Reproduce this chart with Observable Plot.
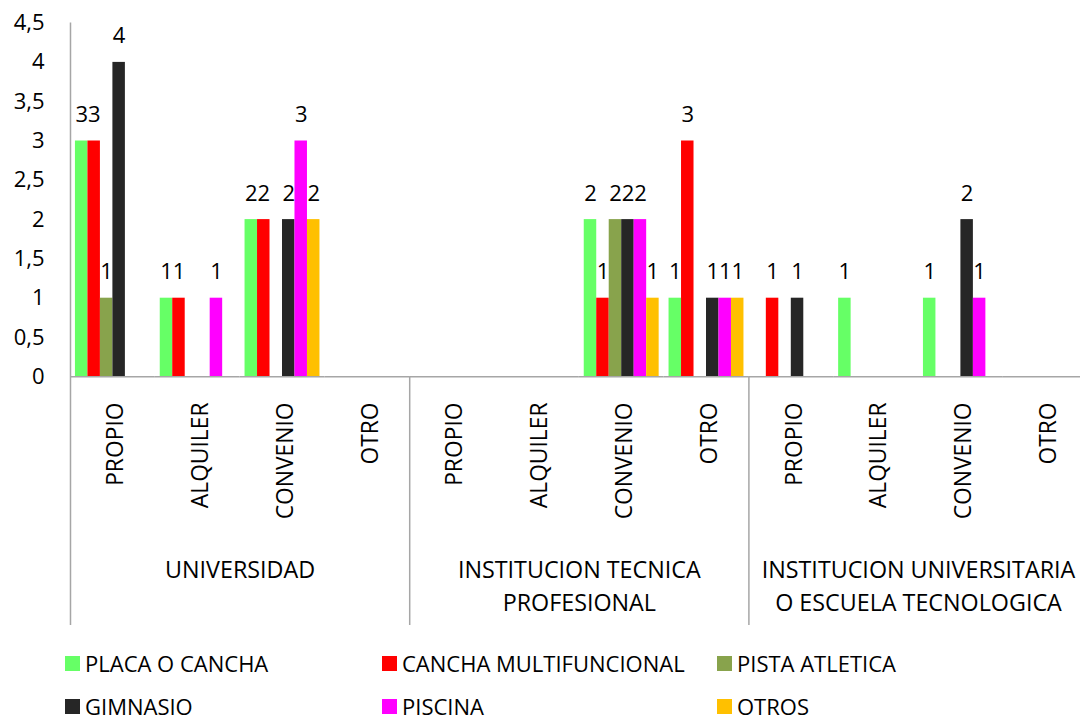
<!DOCTYPE html>
<html>
<head>
<meta charset="utf-8">
<script src="https://cdn.jsdelivr.net/npm/d3@7"></script>
<script src="https://cdn.jsdelivr.net/npm/@observablehq/plot@0.6"></script>
<style>
  html, body { margin: 0; padding: 0; background: #fff; overflow: hidden; }
  #wrap { position: relative; width: 1080px; height: 721px; font-family: "Open Sans", sans-serif; }
  #chart svg { display: block; }
  .item { position: absolute; display: flex; align-items: center; height: 30px; font-size: 22px; line-height: 30px; color: #000; white-space: nowrap; }
  .sw { width: 15px; height: 15px; margin-right: 5px; flex: none; }
</style>
</head>
<body>
<div id="wrap">
  <div id="chart"></div>
  <div id="legend"></div>
</div>
<script>
// ---- data ----
const GROUPS = ["UNIVERSIDAD", "INSTITUCION TECNICA\nPROFESIONAL", "INSTITUCION UNIVERSITARIA\nO ESCUELA TECNOLOGICA"];
const SUBCATS = ["PROPIO", "ALQUILER", "CONVENIO", "OTRO"];
const SERIES = ["PLACA O CANCHA", "CANCHA MULTIFUNCIONAL", "PISTA ATLETICA", "GIMNASIO", "PISCINA", "OTROS"];
const COLORS = ["#66FF66", "#FF0000", "#88A34C", "#262626", "#FF00FF", "#FFC000"];
const Y_TICKS = [0, 0.5, 1, 1.5, 2, 2.5, 3, 3.5, 4, 4.5];
// values for the 12 categories (3 groups x 4 subcategories), null = blank
const PLACA_O_CANCHA        = [3, 1, 2, null,   null, null, 2, 1,      null, 1, 1, null];
const CANCHA_MULTIFUNCIONAL = [3, 1, 2, null,   null, null, 1, 3,      1, null, null, null];
const PISTA_ATLETICA        = [1, null, null, null, null, null, 2, null, null, null, null, null];
const GIMNASIO              = [4, null, 2, null, null, null, 2, 1,     1, null, 2, null];
const PISCINA               = [null, 1, 3, null, null, null, 2, 1,     null, null, 1, null];
const OTROS                 = [null, null, 2, null, null, null, 1, 1,  null, null, null, null];
const VALUES = [PLACA_O_CANCHA, CANCHA_MULTIFUNCIONAL, PISTA_ATLETICA, GIMNASIO, PISCINA, OTROS];

// ---- build tables ----
const cats = [];
GROUPS.forEach((g, gi) => SUBCATS.forEach((s, si) => cats.push({key: gi + "|" + s, group: gi, sub: s})));
const CAT_KEYS = cats.map(c => c.key);
const rows = [];
cats.forEach((c, ci) => SERIES.forEach((s, sj) => {
  const v = VALUES[sj][ci];
  if (v != null) rows.push({cat: c.key, series: s, value: v});
}));
const groupRows = GROUPS.map((g, gi) => ({label: g, first: gi + "|" + SUBCATS[0], mid: gi + "|" + SUBCATS[1], gi}));

const AXIS = "#A6A6A6";
const FONT = 22;
const fmt = d => String(d).replace(".", ",");

const chart = Plot.plot({
  width: 1080,
  height: 645,
  marginLeft: 70,
  marginRight: 0,
  marginTop: 22.6,
  marginBottom: 268.7,
  style: {fontFamily: "'Open Sans', sans-serif", fontSize: FONT + "px", color: "#000", background: "#fff", overflow: "hidden"},
  fx: {domain: CAT_KEYS, range: [70, 1087.6], padding: 0, round: false, axis: null, label: null},
  x: {domain: SERIES, paddingInner: 0, paddingOuter: 0.396, round: false, axis: null},
  y: {domain: [0, 4.5], axis: null},
  color: {domain: SERIES, range: COLORS},
  marks: [
    Plot.axisY({ticks: Y_TICKS, tickFormat: fmt, tickSize: 0, tickPadding: 26, fontSize: FONT, label: null, facetAnchor: "left", fill: "#000"}),
    Plot.barY(rows, {fx: "cat", x: "series", y: "value", fill: "series"}),
    Plot.text(rows, {fx: "cat", x: "series", y: "value", text: d => String(d.value), dy: -26, fontSize: FONT, fill: "#000"}),
    Plot.ruleY([0], {stroke: AXIS, strokeWidth: 1.5}),
    // y axis line + group dividers (multi-level category axis)
    Plot.ruleX(groupRows.filter(d => d.gi === 0), {fx: "first", x: () => SERIES[0], dx: -11.19, stroke: AXIS, strokeWidth: 1.5, insetBottom: -248.7}),
    Plot.ruleX(groupRows.filter(d => d.gi > 0), {fx: "first", x: () => SERIES[0], dx: -11.19, stroke: AXIS, strokeWidth: 1.5, insetTop: 353.7, insetBottom: -248.7}),
    // subcategory labels
    Plot.text(cats, {fx: "key", text: "sub", frameAnchor: "bottom", rotate: -90, textAnchor: "end", lineAnchor: "middle", dy: 25.7, dx: 3, fontSize: 22.8, fill: "#000"}),
    // group labels
    Plot.text(groupRows, {fx: "mid", text: "label", frameAnchor: "bottom-right", textAnchor: "middle", lineAnchor: "top", dy: 178, lineHeight: 1.4, fontSize: 23.3, fill: "#000"})
  ]
});
document.getElementById("chart").appendChild(chart);

// ---- legend ----
const LEG_LEFT = [65, 382, 717];
const LEG_TOP = [648, 691];
const legend = document.getElementById("legend");
SERIES.forEach((s, j) => {
  const it = document.createElement("div");
  it.className = "item";
  it.style.left = LEG_LEFT[j % 3] + "px";
  it.style.top = LEG_TOP[Math.floor(j / 3)] + "px";
  const sw = document.createElement("span");
  sw.className = "sw";
  sw.style.background = COLORS[j];
  const tx = document.createElement("span");
  tx.textContent = s;
  it.appendChild(sw);
  it.appendChild(tx);
  legend.appendChild(it);
});
</script>
</body>
</html>
